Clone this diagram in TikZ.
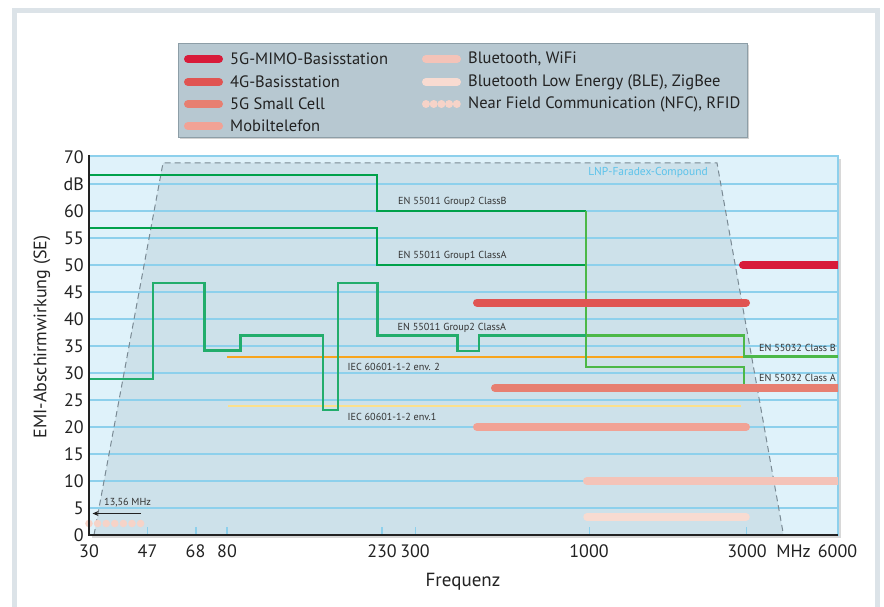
\documentclass[tikz,border=0pt]{standalone}
\usepackage{fontspec}
\setmainfont{PT Sans}
\usetikzlibrary{shadows,arrows.meta}
\definecolor{framec}{HTML}{DCE3E8}
\definecolor{legfill}{HTML}{B7C8D1}
\definecolor{legdraw}{HTML}{8D9EA7}
\definecolor{plotbg}{HTML}{DFF2FA}
\definecolor{gridc}{HTML}{8DD0EC}
\definecolor{trapc}{HTML}{CDE1EA}
\definecolor{dashc}{HTML}{7A8A94}
\definecolor{gdark}{HTML}{00A14B}
\definecolor{gstep}{HTML}{22AD6C}
\definecolor{glight}{HTML}{4CB848}
\definecolor{orangec}{HTML}{F7A41D}
\definecolor{yellowc}{HTML}{FBE08C}
\definecolor{cmimo}{HTML}{D81B3A}
\definecolor{cfourg}{HTML}{E05452}
\definecolor{csmall}{HTML}{E77F71}
\definecolor{cmobil}{HTML}{F1A295}
\definecolor{cbt}{HTML}{F4C3B8}
\definecolor{cble}{HTML}{F8DBD1}
\definecolor{cnfc}{HTML}{F6D3C8}
\definecolor{txtc}{HTML}{222222}
\definecolor{smalltxt}{HTML}{333333}
\definecolor{lnpc}{HTML}{5CC3EA}
\begin{document}
\begin{tikzpicture}[x=1pt,y=-1pt,
  legtext/.style={anchor=west,inner sep=0pt,font=\fontsize{16.5}{16.5}\selectfont,text=txtc},
  legbar/.style={line width=8pt,line cap=round},
  bar/.style={line width=8pt,line cap=round},
  gline/.style={line width=2.5pt,line join=miter},
  lbl/.style={anchor=west,inner sep=0pt,font=\fontsize{10.2}{10.2}\selectfont,text=smalltxt},
  ylab/.style={anchor=east,inner sep=0pt,font=\fontsize{18}{18}\selectfont,text=txtc},
  xlab/.style={anchor=north,inner sep=0pt,font=\fontsize{18}{18}\selectfont,text=txtc},
  tickmark/.style={draw=gridc,line width=1.5pt}]
\useasboundingbox (0,0) rectangle (884,607);
\fill[white] (0,0) rectangle (884,607);
\draw[framec,line width=5pt] (14.5,10.5) rectangle (877.5,640);
% legend
\path[fill=legfill,draw=legdraw,line width=0.8pt,drop shadow={shadow xshift=2pt,shadow yshift=-2pt,opacity=0.35}] (178,43) rectangle (747,137);
\draw[legbar,cmimo] (188,59) -- (219,59);
\draw[legbar,cfourg] (188,82) -- (219,82);
\draw[legbar,csmall] (188,104) -- (219,104);
\draw[legbar,cmobil] (188,126) -- (219,126);
\draw[legbar,cbt] (426,59) -- (457,59);
\draw[legbar,cble] (426,82) -- (457,82);
\foreach \i in {0,...,4} \fill[cnfc] ({426+7.7*\i},104) circle (4pt);
\node[legtext] (l1) at (230,59) {5G-MIMO-Basisstation};
\node[legtext] (l2) at (230,82) {4G-Basisstation};
\node[legtext] (l3) at (230,104) {5G Small Cell};
\node[legtext] (l4) at (230,126) {Mobiltelefon};
\node[legtext] (l5) at (468,59) {Bluetooth, WiFi};
\node[legtext] (l6) at (468,82) {Bluetooth Low Energy (BLE), ZigBee};
\node[legtext] (l7) at (468,104) {Near Field Communication (NFC), RFID};
% plot area
\path[fill=plotbg,draw=gridc,line width=1.5pt,drop shadow={shadow xshift=3pt,shadow yshift=-3pt,opacity=0.3}] (89,156) rectangle (838,535);
\fill[trapc] (94,535) -- (163,163) -- (717,163) -- (783.5,535) -- cycle;
\foreach \k in {1,...,13} \draw[gridc,line width=1.6pt] (89,{535-27*\k}) -- (838,{535-27*\k});
\draw[dashc,line width=1pt,dash pattern=on 6pt off 4pt] (94,535) -- (163,163) -- (717,163) -- (783.5,535);
\node[anchor=east,inner sep=0pt,font=\fontsize{11.5}{11.5}\selectfont,text=lnpc] (lnp) at (708,173) {LNP-Faradex-Compound};
% standards lines
\draw[orangec,line width=2.2pt] (227,357) -- (744,357);
\draw[yellowc,line width=2.2pt] (228,406) -- (741,406);
\draw[gdark,gline] (89,175) -- (377,175) -- (377,211) -- (586,211);
\draw[gdark,gline] (89,228) -- (377,228) -- (377,265) -- (586,265);
\draw[glight,gline] (586,211) -- (586,367) -- (744,367) -- (744,384);
\draw[gstep,gline] (89,379) -- (153,379) -- (153,283) -- (204.5,283) -- (204.5,350.5) -- (240.7,350.5) -- (240.7,335.7) -- (323,335.7) -- (323,410) -- (338,410) -- (338,283) -- (377.5,283) -- (377.5,335.7) -- (457.7,335.7) -- (457.7,351) -- (479,351) -- (479,335.7) -- (586,335.7);
\draw[glight,gline] (586,335.7) -- (744,335.7) -- (744,356.7) -- (838,356.7);
% bars
\begin{scope}
\clip (89,156) rectangle (838,535);
\draw[bar,cmimo] (743,265) -- (850,265);
\draw[bar,cfourg] (477,302.5) -- (746,302.5);
\draw[bar,csmall] (495,388) -- (850,388);
\draw[bar,cmobil] (477,427) -- (746,427);
\draw[bar,cbt] (587,481) -- (850,481);
\draw[bar,cble,line width=7.5pt] (587,517) -- (746,517);
\end{scope}
\foreach \i in {0,...,6} \fill[cnfc] ({89+8.6*\i},523.5) circle (3.8pt);
% labels
\node[lbl] (t1) at (398,202) {EN 55011 Group2 ClassB};
\node[lbl] (t2) at (398,256) {EN 55011 Group1 ClassA};
\node[lbl] (t3) at (397.5,328) {EN 55011 Group2 ClassA};
\node[lbl] (t4) at (347.5,367) {IEC 60601-1-2 env. 2};
\node[lbl] (t5) at (347.5,417) {IEC 60601-1-2 env.1};
\node[lbl] (t6) at (759,348) {EN 55032 Class B};
\node[lbl] (t7) at (759,377.5) {EN 55032 Class A};
\node[lbl] (t8) at (104,503) {13,56 MHz};
\coordinate (arrA) at (141,513.5);
\coordinate (arrB) at (92.5,513.5);
\draw[txtc,line width=0.9pt,-{Stealth[length=6pt,width=5pt]}] (arrA) -- (arrB);
% ticks
\foreach \x in {147.7,196,227,382,415.5,589.5,746.5} \draw[tickmark] (\x,535) -- (\x,527);
% axes
\draw[txtc,line width=2.5pt] (89,155) -- (89,535) -- (838,535);
% y labels
\foreach \v/\t in {70/70,60/60,55/55,50/50,45/45,40/40,35/35,30/30,25/25,20/20,15/15,10/10,5/5,0/0}
  \node[ylab] (y\v) at (84,{535-5.4*\v}) {\t};
\node[ylab] (ydb) at (84,184) {dB};
% x labels
\node[xlab] (x30) at (89,544.5) {30};
\node[xlab] (x47) at (147.5,544.5) {47};
\node[xlab] (x68) at (195.5,544.5) {68};
\node[xlab] (x80) at (227,544.5) {80};
\node[xlab] (x230) at (382,544.5) {230};
\node[xlab] (x300) at (415,544.5) {300};
\node[xlab] (x1000) at (589,544.5) {1000};
\node[xlab] (x3000) at (747,544.5) {3000};
\node[xlab] (xmhz) at (793.5,544.5) {MHz};
\node[xlab] (x6000) at (837.5,544.5) {6000};
\node[inner sep=0pt,font=\fontsize{19}{19}\selectfont,text=txtc] (xt) at (463,582) {Frequenz};
\node[inner sep=0pt,font=\fontsize{18}{18}\selectfont,text=txtc,rotate=90] (yt) at (42,337) {EMI-Abschirmwirkung (SE)};
\end{tikzpicture}
\end{document}
